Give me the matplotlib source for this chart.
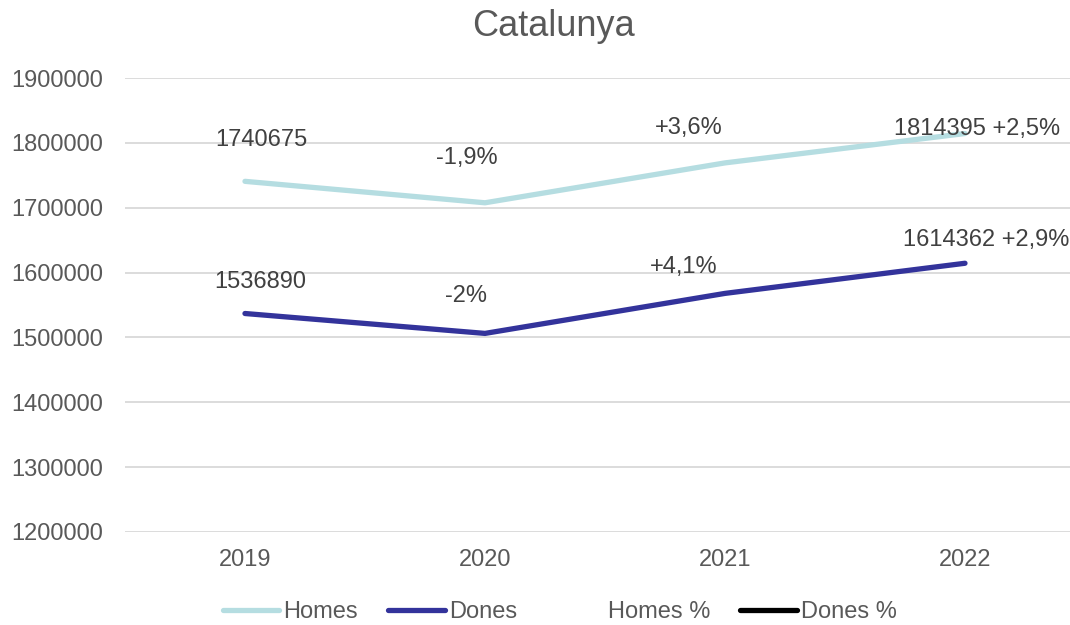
import matplotlib.pyplot as plt
from matplotlib.lines import Line2D
from matplotlib.ticker import StrMethodFormatter

plt.rcParams['font.family'] = ['Liberation Sans', 'DejaVu Sans']

# data
years = ["2019", "2020", "2021", "2022"]
homes = [1740675, 1707600, 1769100, 1814395]
dones = [1536890, 1506200, 1567900, 1614362]
homes_pct = [None, -1.9, 3.6, 2.5]
dones_pct = [None, -2.0, 4.1, 2.9]

c_homes = "#B5DDE1"
c_dones = "#33339B"
c_text = "#595959"

# label offsets in points (layout only)
homes_off = [(12, 30), (-13, 32), (-26, 25), (9, 3)]
dones_off = [(11, 23), (-14, 27), (-30, 19), (15, 17)]


def fmt_pct(v):
    if v is None:
        return None
    s = f"{v:+.1f}".replace(".", ",")
    if s.endswith(",0"):
        s = s[:-2]
    return s + "%"


def make_label(i, val, pct):
    p = fmt_pct(pct)
    if i == 0:
        return str(val)
    if i == len(years) - 1:
        return f"{val} {p}"
    return p


fig = plt.figure(figsize=(10.7, 6.25), dpi=100)
ax = fig.add_axes([0.1168, 0.1488, 0.8832, 0.7264])

x = list(range(len(years)))
ax.plot(x, homes, color=c_homes, lw=3.8, solid_capstyle="round", zorder=3)
ax.plot(x, dones, color=c_dones, lw=3.8, solid_capstyle="round", zorder=3)

for i in x:
    ax.annotate(make_label(i, homes[i], homes_pct[i]), (i, homes[i]),
                xytext=homes_off[i], textcoords="offset points",
                ha="center", va="center", fontsize=17, color="#404040",
                annotation_clip=False)
    ax.annotate(make_label(i, dones[i], dones_pct[i]), (i, dones[i]),
                xytext=dones_off[i], textcoords="offset points",
                ha="center", va="center", fontsize=17, color="#404040",
                annotation_clip=False)

ax.set_ylim(1200000, 1900000)
ax.set_yticks(range(1200000, 1900001, 100000))
ax.yaxis.set_major_formatter(StrMethodFormatter("{x:.0f}"))
ax.set_xlim(-0.5, 3.4375)
ax.set_xticks(x)
ax.set_xticklabels(years)
ax.grid(axis="y", color="#D9D9D9", lw=1.3)
ax.set_axisbelow(True)
for s in ax.spines.values():
    s.set_visible(False)
ax.tick_params(length=0, labelsize=17, colors=c_text)
ax.tick_params(axis="y", pad=16)
ax.tick_params(axis="x", pad=12)

fig.text(0.517, 0.958, "Catalunya", ha="center", va="center", fontsize=26, color=c_text)

handles = [
    Line2D([], [], color=c_homes, lw=3.8, solid_capstyle="round"),
    Line2D([], [], color=c_dones, lw=3.8, solid_capstyle="round"),
    Line2D([], [], color="none", lw=3.8),
    Line2D([], [], color="black", lw=3.8, solid_capstyle="round"),
]
leg = fig.legend(handles, ["Homes", "Dones", "Homes %", "Dones %"],
                 loc="center", bbox_to_anchor=(0.523, 0.02), ncol=4,
                 frameon=False, fontsize=17, handlelength=2.4,
                 handletextpad=0.17, columnspacing=1.27)
for t in leg.get_texts():
    t.set_color(c_text)

fig.savefig("out.png", dpi=100)
